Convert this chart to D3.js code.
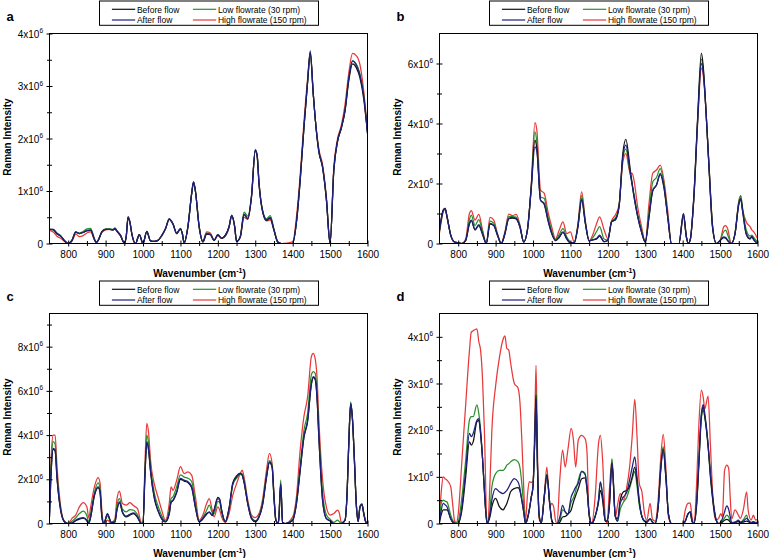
<!DOCTYPE html>
<html><head><meta charset="utf-8">
<script src="https://cdn.jsdelivr.net/npm/d3@7"></script>
<style>body{margin:0;background:#fff}svg{display:block}</style>
</head><body>
<svg id="chart" width="769" height="558"></svg>
<script>
// ---------- shared labels ----------
const seriesNames = ["Before flow", "After flow", "Low flowrate (30 rpm)", "High flowrate (150 rpm)"];
const xTickValues = [800, 900, 1000, 1100, 1200, 1300, 1400, 1500, 1600];
const xMinorValues = [850, 950, 1050, 1150, 1250, 1350, 1450, 1550];
const panelLetters = ["a", "b", "c", "d"];

// ---------- panel a (values in 1e6 counts) ----------
const aWave = [750,760,770,780,790,800,810,820,830,840,
  850,860,870,875,880,890,900,910,920,925,
  930,940,950,955,960,965,970,980,990,1000,
  1010,1020,1030,1040,1050,1060,1070,1080,1090,1100,
  1105,1110,1120,1130,1135,1140,1150,1160,1170,1180,
  1190,1200,1210,1220,1230,1237,1245,1250,1260,1270,
  1280,1290,1300,1305,1310,1320,1330,1340,1350,1360,
  1370,1400,1410,1420,1430,1440,1447,1455,1460,1470,
  1480,1490,1500,1510,1520,1530,1540,1550,1560,1570,
  1580,1590,1600];
const aBefore = [.27,.26,.18,.14,.05,0,.06,.21,.19,.21,
  .24,.25,.08,.02,.06,.22,.27,.27,.26,.28,
  .24,.15,.01,.13,.5,.4,.19,0,.17,0,
  .23,.05,.04,.06,.15,.28,.46,.37,.19,.28,
  .19,.01,.32,.95,1.17,1.0,.32,.03,.18,.17,
  .06,.16,.1,.15,.32,.53,.32,.04,.13,.55,
  .47,.9,1.77,1.67,1.14,.6,.44,.48,.25,.03,
  0,0,.4,1.2,2.2,3.08,3.64,2.85,2.4,1.75,
  1.45,.85,0,1.4,1.95,2.2,2.52,3.1,3.42,3.35,
  3.15,2.75,2.1];
const aAfter = [.27,.27,.19,.14,.06,0,.06,.22,.19,.21,
  .25,.26,.08,.02,.06,.22,.27,.27,.26,.29,
  .24,.15,.01,.13,.51,.41,.19,0,.17,0,
  .23,.05,.04,.06,.15,.28,.47,.37,.19,.28,
  .19,.01,.32,.95,1.18,1.0,.32,.03,.19,.17,
  .06,.17,.1,.16,.32,.54,.32,.04,.13,.56,
  .48,.9,1.79,1.68,1.15,.6,.45,.5,.26,.03,
  0,0,.4,1.2,2.2,3.1,3.67,2.85,2.4,1.75,
  1.45,.85,0,1.4,1.95,2.2,2.55,3.15,3.48,3.4,
  3.2,2.8,2.1];
const aLow = [.27,.27,.2,.15,.06,0,.06,.22,.2,.23,
  .28,.29,.09,.02,.06,.23,.28,.28,.27,.3,
  .25,.16,.01,.13,.5,.41,.19,0,.17,0,
  .23,.05,.04,.06,.15,.28,.47,.38,.2,.29,
  .19,.01,.32,.95,1.16,1.0,.32,.03,.2,.18,
  .06,.17,.1,.16,.32,.53,.32,.04,.14,.6,
  .52,.92,1.78,1.7,1.17,.62,.47,.53,.28,.04,
  0,0,.4,1.2,2.2,3.08,3.6,2.85,2.4,1.75,
  1.45,.85,0,1.4,1.95,2.2,2.55,3.15,3.48,3.42,
  3.22,2.82,2.1];
const aHigh = [.25,.22,.14,.1,.04,0,.04,.18,.13,.15,
  .2,.22,.07,.02,.06,.21,.26,.27,.26,.28,
  .23,.14,.01,.12,.5,.4,.18,0,.17,0,
  .22,.05,.04,.06,.15,.28,.46,.37,.19,.28,
  .19,.01,.32,.95,1.16,1.0,.32,.05,.22,.2,
  .07,.15,.1,.14,.3,.52,.31,.04,.12,.5,
  .46,.88,1.76,1.66,1.14,.6,.43,.45,.25,.03,
  0,.03,.5,1.3,2.3,3.15,3.62,2.85,2.4,1.8,
  1.5,.9,0,1.45,2.0,2.25,2.65,3.25,3.62,3.58,
  3.4,2.9,2.15];

// ---------- panel b ----------
const bWave = [750,760,765,770,780,790,800,810,820,830,
  835,845,855,865,875,885,895,905,915,925,
  935,945,955,965,975,985,995,1005,1010,1020,
  1030,1040,1050,1060,1070,1080,1090,1100,1110,1120,
  1130,1140,1150,1160,1170,1178,1190,1200,1210,1220,
  1230,1240,1248,1260,1265,1270,1280,1290,1300,1310,
  1320,1330,1340,1350,1360,1370,1390,1402,1410,1415,
  1420,1430,1440,1450,1455,1460,1470,1480,1490,1500,
  1510,1515,1520,1530,1540,1550,1555,1560,1570,1580,
  1585,1590,1600];
const bBefore = [.45,1.12,1.17,.9,.28,.05,.02,0,.1,.65,
  .76,.45,.6,.3,0,.65,.6,.27,0,.33,
  .83,.85,.82,.55,.05,.45,1.85,3.45,3.2,1.45,
  1.3,.76,.33,.1,.2,.37,.15,.02,.02,.56,
  1.45,.65,.09,.12,.15,.25,.06,.11,.72,.8,
  1.25,3.0,3.47,2.45,2.0,1.55,.88,.38,.05,.88,
  1.75,1.95,2.3,1.85,.88,0,0,1.0,.22,0,
  .11,1.6,4.2,6.35,5.9,4.95,2.6,.5,0,.1,
  .2,.18,.1,0,.33,1.3,1.48,1.1,.3,.15,
  .22,.12,0];
const bAfter = [.45,1.1,1.17,.9,.28,.05,.02,0,.1,.67,
  .78,.47,.63,.33,0,.67,.61,.28,0,.33,
  .83,.87,.83,.56,.05,.45,1.78,3.22,3.1,1.45,
  1.33,.78,.33,.1,.22,.39,.17,.02,.02,.56,
  1.5,.67,.09,.13,.17,.28,.06,.11,.72,.78,
  1.22,2.89,3.28,2.34,1.95,1.56,.89,.39,.05,.89,
  1.78,1.95,2.34,1.9,.89,0,0,1.0,.22,0,
  .11,1.56,4.1,6.0,5.7,4.9,2.67,.56,0,.1,
  .22,.2,.11,0,.33,1.33,1.5,1.1,.33,.17,
  .24,.13,0];
const bLow = [.4,1.08,1.15,.9,.28,.05,.02,0,.1,.8,
  .95,.6,.8,.4,0,.75,.68,.3,0,.35,
  .9,.9,.88,.58,.05,.45,1.85,3.73,3.4,1.55,
  1.5,.9,.42,.12,.3,.5,.22,.05,.02,.6,
  1.6,.7,.09,.2,.4,.56,.15,.12,.75,.85,
  1.25,2.85,3.15,2.3,1.98,1.65,.95,.45,.05,1.05,
  2.05,2.2,2.5,2.0,.95,0,0,.95,.22,0,
  .11,1.56,4.1,6.15,5.8,4.9,2.67,.56,0,.1,
  .4,.45,.3,0,.35,1.4,1.6,1.2,.45,.25,
  .28,.2,.05];
const bHigh = [.35,1.05,1.15,.9,.28,.05,.02,0,.15,1.0,
  1.1,.78,.97,.45,0,.87,.78,.33,0,.4,
  .98,.93,.97,.62,.05,.45,1.9,4.03,3.8,1.78,
  1.67,1.05,.55,.15,.45,.72,.33,.39,.05,.65,
  1.72,.75,.09,.3,.67,.89,.45,.17,.75,.95,
  1.3,2.7,3.0,2.34,2.34,2.1,1.2,.56,.05,1.33,
  2.34,2.45,2.61,2.1,1.1,0,0,.89,.2,0,
  .11,1.5,4.0,5.85,5.6,4.85,2.7,.6,0,.1,
  .56,.6,.5,0,.35,1.4,1.6,1.15,.72,.56,
  .45,.39,.17];

// ---------- panel c ----------
const cWave = [750,755,760,765,770,780,790,800,810,820,
  830,840,850,855,860,870,880,885,890,895,
  905,915,925,930,937,945,955,965,975,985,
  995,1000,1005,1010,1015,1020,1030,1040,1050,1060,
  1070,1075,1080,1090,1100,1110,1120,1130,1140,1150,
  1160,1170,1177,1185,1190,1200,1205,1210,1220,1230,
  1240,1250,1260,1265,1270,1280,1290,1300,1310,1320,
  1330,1338,1345,1350,1355,1362,1368,1373,1380,1400,
  1410,1420,1430,1440,1450,1455,1460,1465,1470,1480,
  1490,1500,1510,1520,1525,1530,1540,1545,1550,1555,
  1560,1565,1570,1575,1580,1585,1590,1595,1600];
const cBefore = [.3,2.5,3.35,3.28,2.05,.58,.08,0,.02,.13,
  .2,.24,.12,0,.28,1.25,1.62,1.42,.3,0,
  .42,.05,.06,.58,.95,.5,.3,.38,.45,.28,
  0,0,2.1,3.65,3.3,2.35,1.15,.57,.2,.07,
  .42,.95,1.03,1.4,2.0,1.92,1.85,1.62,.72,.07,
  .2,.42,.5,.36,.62,1.18,1.1,.62,.08,.7,
  1.85,2.15,2.28,2.18,1.85,.88,.22,.08,.28,.88,
  2.08,2.75,2.55,1.18,.15,0,1.75,.05,0,.14,
  .88,2.38,3.88,4.62,6.28,6.6,6.52,5.7,3.88,1.03,
  .22,.11,0,0,0,0,.15,1.2,3.6,5.4,
  4.65,2.85,.88,.08,.75,.85,.44,.08,0];
const cAfter = [.3,2.57,3.4,3.32,2.1,.6,.08,0,.02,.15,
  .23,.27,.15,0,.3,1.28,1.66,1.45,.3,0,
  .45,.05,.07,.6,.98,.53,.33,.42,.48,.3,
  0,0,2.1,3.7,3.32,2.4,1.2,.6,.23,.08,
  .45,.98,1.06,1.43,2.04,1.96,1.89,1.66,.75,.08,
  .23,.45,.53,.38,.6,1.13,1.06,.6,.08,.68,
  1.8,2.1,2.26,2.2,1.89,.9,.23,.08,.3,.9,
  2.1,2.79,2.57,1.2,.15,0,1.8,.05,0,.15,
  .9,2.41,3.92,4.68,6.34,6.64,6.57,5.74,3.92,1.06,
  .23,.12,0,0,0,0,.15,1.2,3.62,5.43,
  4.68,2.87,.9,.08,.75,.86,.45,.08,0];
const cLow = [.5,2.9,3.7,3.6,2.3,.65,.08,0,.1,.25,
  .45,.56,.35,.05,.45,1.4,1.84,1.6,.4,0,
  .35,.05,.15,.8,1.13,.65,.53,.63,.6,.4,
  .02,0,2.3,4.0,3.6,2.6,1.4,.8,.35,.1,
  .6,1.13,1.2,1.66,2.2,2.1,2.05,1.9,.95,.1,
  .28,.6,.83,.5,.45,1.0,.95,.5,.06,.65,
  1.75,2.05,2.22,2.25,1.95,.95,.28,.12,.35,1.0,
  2.2,2.85,2.65,1.25,.15,0,1.96,.05,0,.2,
  1.0,2.6,4.2,5.0,6.72,6.87,6.8,5.95,4.2,1.4,
  .4,.2,.05,.15,.08,0,.15,1.2,3.65,5.5,
  4.7,2.9,.92,.1,.78,.88,.48,.1,0];
const cHigh = [.9,3.2,4.0,4.0,2.6,.75,.1,0,.23,.38,
  .75,.95,.75,.25,.75,1.66,2.08,1.85,.6,0,
  .15,0,.23,1.06,1.46,.9,.83,.94,.8,.68,
  .05,0,2.6,4.53,4.08,2.87,1.8,1.2,.6,.15,
  .9,1.66,1.5,1.96,2.57,2.26,2.34,2.19,1.2,.15,
  .38,.9,1.13,.6,.3,.75,.6,.3,.05,.45,
  1.28,1.8,2.26,2.41,2.1,1.06,.38,.27,.45,1.13,
  2.41,3.17,2.7,1.35,.2,0,1.8,.05,0,.3,
  1.2,3.32,4.83,5.74,7.55,7.7,7.47,6.64,4.68,1.96,
  .75,.38,.45,.6,.45,.05,.15,1.2,3.62,5.4,
  4.68,2.87,.9,.1,.8,.9,.48,.1,0];

// ---------- panel d ----------
const dWave = [750,755,760,765,770,780,785,790,795,800,
  810,820,830,835,840,850,855,860,865,870,
  877,880,885,890,900,910,920,925,930,935,
  940,950,960,965,970,975,980,985,990,995,
  1000,1005,1008,1012,1016,1022,1030,1037,1045,1050,
  1055,1060,1064,1072,1079,1086,1093,1102,1108,1114,
  1121,1130,1139,1144,1150,1157,1166,1175,1180,1186,
  1193,1198,1204,1211,1220,1226,1233,1242,1251,1258,
  1265,1272,1278,1284,1291,1298,1304,1313,1319,1326,
  1335,1341,1348,1355,1362,1370,1400,1407,1414,1420,
  1425,1430,1438,1443,1450,1455,1459,1468,1474,1483,
  1489,1496,1502,1506,1512,1518,1523,1527,1531,1540,
  1549,1554,1562,1571,1575,1583,1589,1595,1600];
const dBefore = [.02,.2,.29,.29,.29,.1,.03,0,0,0,
  .29,1.0,1.75,1.68,1.75,2.18,2.21,1.9,1.4,.71,
  0,.03,.15,.36,.54,.36,.29,.35,.43,.55,
  .68,.75,.77,.7,.5,.25,0,.1,.29,.55,
  .8,1.9,2.75,1.2,.2,0,.57,1.05,.4,.07,
  0,0,0,.03,.14,.15,.2,.29,.46,.6,
  .75,.96,.98,.75,.2,0,.15,.45,.71,.5,
  .05,.05,.35,1.29,.15,.1,.5,.68,.71,.8,
  1.0,1.21,.9,.45,.15,.05,.03,.1,.03,0,
  .4,1.15,1.6,1.0,.2,0,0,.05,.2,.25,
  .05,0,.5,1.25,2.3,2.5,2.3,1.65,1.05,.35,
  .08,0,.01,.03,.07,.09,.07,.03,.01,.02,
  .04,.02,.03,.05,.04,.01,.03,.01,.02];
const dAfter = [.05,.3,.43,.4,.36,.1,.04,.01,0,0,
  .36,1.14,1.93,1.86,1.93,2.21,2.25,1.93,1.4,.71,
  0,.05,.2,.5,.75,.68,.64,.67,.71,.78,
  .86,.96,.89,.75,.5,.25,0,.1,.29,.55,
  .8,1.9,2.65,1.2,.2,0,.57,1.0,.4,.07,
  0,0,0,.15,.39,.25,.2,.57,.68,.78,
  .86,1.11,1.05,.8,.2,0,.15,.5,.89,.6,
  .05,.05,.4,1.3,.15,.05,.43,.57,.68,.93,
  1.2,1.43,1.0,.5,.15,.05,.03,.1,.03,0,
  .4,1.1,1.55,1.0,.2,0,0,.05,.2,.25,
  .05,0,.55,1.3,2.36,2.55,2.36,1.7,1.1,.4,
  .1,0,.03,.1,.25,.38,.3,.15,.02,.03,
  .07,.03,.05,.11,.08,.02,.04,.02,.03];
const dLow = [.1,.45,.5,.48,.46,.18,.07,.03,.02,.05,
  .57,1.36,2.21,2.29,2.29,2.54,2.36,2.0,1.4,.75,
  .02,.05,.3,.79,1.07,1.14,1.14,1.18,1.25,1.28,
  1.32,1.37,1.32,1.2,.86,.4,0,.1,.29,.55,
  .8,1.9,2.85,1.2,.2,0,.57,1.05,.4,.07,
  0,0,0,.08,.29,.25,.2,.46,.55,.7,
  .93,1.12,1.08,.8,.2,0,.15,.5,.89,.6,
  .05,.05,.38,1.39,.15,.05,.3,.46,.57,.75,
  .95,1.11,.8,.4,.15,.05,.03,.1,.03,0,
  .4,1.15,1.65,1.05,.2,0,0,.05,.2,.25,
  .05,0,.45,1.2,2.25,2.43,2.28,1.65,1.0,.35,
  .08,0,.01,.05,.12,.18,.14,.06,.01,.03,
  .05,.02,.08,.18,.06,.02,.03,.01,.02];
const dHigh = [.14,.71,1.0,.96,.93,.79,.43,.07,0,.2,
  1.36,2.55,3.7,4.1,4.13,4.17,3.9,3.7,3.1,2.0,
  0,.05,.9,2.0,2.95,3.55,3.95,4.02,3.75,3.72,
  3.45,3.0,2.9,2.6,1.8,.8,.05,.6,.9,.88,
  .9,2.3,3.39,1.5,.1,.05,.6,1.21,.36,.43,
  .36,.07,0,1.0,1.57,1.21,1.57,2.04,1.79,1.21,
  1.79,1.89,1.82,1.57,.14,0,.57,1.71,1.89,1.36,
  .14,0,.71,1.36,.14,.4,.64,.5,.8,1.2,
  1.86,2.66,1.86,.86,.68,.21,.07,.43,.1,.05,
  .57,1.36,1.91,1.2,.14,0,0,.29,.43,.44,
  .14,0,1.0,2.07,2.86,2.7,2.46,2.73,1.71,.29,
  .07,.11,.21,.14,1.14,1.25,1.18,.57,.1,.29,
  .18,.11,.29,.68,.29,.07,.18,.07,.09];

// y-axis settings (in units of 1e6)
const yMaxes = [4, 7, 9.5, 4.5];
const yMajors = [[0,1,2,3,4],[0,2,4,6],[0,2,4,6,8],[0,1,2,3,4]];
const yMinors = [[0.5,1.5,2.5,3.5],[1,3,5],[1,3,5,7,9],[0.5,1.5,2.5,3.5]];

const panelData = [
  {wave: aWave, series: [aBefore, aAfter, aLow, aHigh]},
  {wave: bWave, series: [bBefore, bAfter, bLow, bHigh]},
  {wave: cWave, series: [cBefore, cAfter, cLow, cHigh]},
  {wave: dWave, series: [dBefore, dAfter, dLow, dHigh]}
];

// ---------- drawing ----------
const colors = ["#111111", "#20207e", "#2b8f2b", "#e8383a"];
const drawOrder = [3, 2, 0, 1];
const FONT = "'Liberation Sans', Arial, Helvetica, sans-serif";
const W = 318, H = 210;
const origins = [[49.5, 33.5], [439.5, 33.5], [49.5, 313.5], [439.5, 313.5]];
const svg = d3.select("#chart").style("font-family", FONT);

panelData.forEach((p, i) => {
  const [L, T] = origins[i];
  const g = svg.append("g");
  const x = d3.scaleLinear().domain([750, 1600]).range([L, L + W]);
  const y = d3.scaleLinear().domain([0, yMaxes[i]]).range([T + H, T]);

  const clipId = "clip" + i;
  g.append("clipPath").attr("id", clipId).append("rect")
    .attr("x", L).attr("y", T - 1).attr("width", W).attr("height", H + 1);

  const line = d3.line()
    .x((d, j) => x(p.wave[j]))
    .y(d => y(d))
    .curve(d3.curveMonotoneX);

  const lines = g.append("g").attr("clip-path", `url(#${clipId})`);
  drawOrder.forEach(s => {
    lines.append("path").datum(p.series[s])
      .attr("d", line).attr("fill", "none")
      .attr("stroke", colors[s]).attr("stroke-width", 1.25)
      .attr("stroke-linejoin", "round");
  });

  // frame
  g.append("rect").attr("x", L).attr("y", T).attr("width", W).attr("height", H)
    .attr("fill", "none").attr("stroke", "#000").attr("stroke-width", 1);

  // x axis (major)
  const xAx = g.append("g").attr("transform", `translate(0,${T + H})`)
    .call(d3.axisBottom(x).tickValues(xTickValues).tickSize(3).tickFormat(d3.format("d")));
  xAx.select(".domain").remove();
  xAx.selectAll(".tick line").attr("y1", -3).attr("stroke", "#000");
  xAx.selectAll(".tick text").attr("y", 14.3).attr("dy", 0)
    .attr("font-size", 10).attr("font-family", FONT).attr("fill", "#000");
  // x axis (minor)
  const xMin = g.append("g").attr("transform", `translate(0,${T + H})`)
    .call(d3.axisBottom(x).tickValues(xMinorValues).tickSize(2.5).tickFormat(""));
  xMin.select(".domain").remove();
  xMin.selectAll(".tick line").attr("y1", -2.5).attr("stroke", "#000");

  // y axis (major)
  const yAx = g.append("g").attr("transform", `translate(${L},0)`)
    .call(d3.axisLeft(y).tickValues(yMajors[i]).tickSize(3).tickFormat(""));
  yAx.select(".domain").remove();
  yAx.selectAll(".tick line").attr("x1", 3).attr("stroke", "#000");
  yAx.selectAll(".tick").each(function(v) {
    const t = d3.select(this).append("text")
      .attr("x", -6.5).attr("y", 3.6).attr("text-anchor", "end")
      .attr("font-size", 10).attr("fill", "#000").attr("font-family", FONT);
    if (v === 0) { t.text("0"); }
    else {
      t.append("tspan").text(v + "x10");
      t.append("tspan").attr("dy", -4.5).attr("font-size", 6.5).text("6");
    }
  });
  // y axis (minor)
  const yMin = g.append("g").attr("transform", `translate(${L},0)`)
    .call(d3.axisLeft(y).tickValues(yMinors[i]).tickSize(2.5).tickFormat(""));
  yMin.select(".domain").remove();
  yMin.selectAll(".tick line").attr("x1", 2.5).attr("stroke", "#000");

  // axis titles
  const xt = g.append("text").attr("x", L + W / 2 - 9).attr("y", T + H + 33)
    .attr("text-anchor", "middle").attr("font-size", 10).attr("font-weight", "bold");
  xt.append("tspan").text("Wavenumber (cm");
  xt.append("tspan").attr("dy", -4).attr("font-size", 7).text("-1");
  xt.append("tspan").attr("dy", 4).text(")");

  g.append("text")
    .attr("transform", `translate(${L - 38.5},${T + H / 2 - 1.5}) rotate(-90)`)
    .attr("text-anchor", "middle").attr("font-size", 10).attr("font-weight", "bold")
    .text("Raman Intensity");

  // panel letter
  g.append("text").attr("x", L - 43).attr("y", T - 12.5)
    .attr("font-size", 13).attr("font-weight", "bold").text(panelLetters[i]);

  // legend
  const bx = L + 50, by = T - 32.5;
  g.append("rect").attr("x", bx).attr("y", by).attr("width", 219).attr("height", 24.3)
    .attr("fill", "#fff").attr("stroke", "#000").attr("stroke-width", 1);
  const legPos = [[12.4, 8.3], [12.4, 19], [93.4, 8.3], [93.4, 19]];
  seriesNames.forEach((name, s) => {
    const [lx, ly] = legPos[s];
    g.append("line").attr("x1", bx + lx).attr("x2", bx + lx + 23.3)
      .attr("y1", by + ly).attr("y2", by + ly)
      .attr("stroke", colors[s]).attr("stroke-width", 1.2);
    g.append("text").attr("x", bx + lx + 25).attr("y", by + ly + 3.2)
      .attr("font-size", 8.5).attr("fill", "#000").text(name);
  });
});
</script>
</body></html>
